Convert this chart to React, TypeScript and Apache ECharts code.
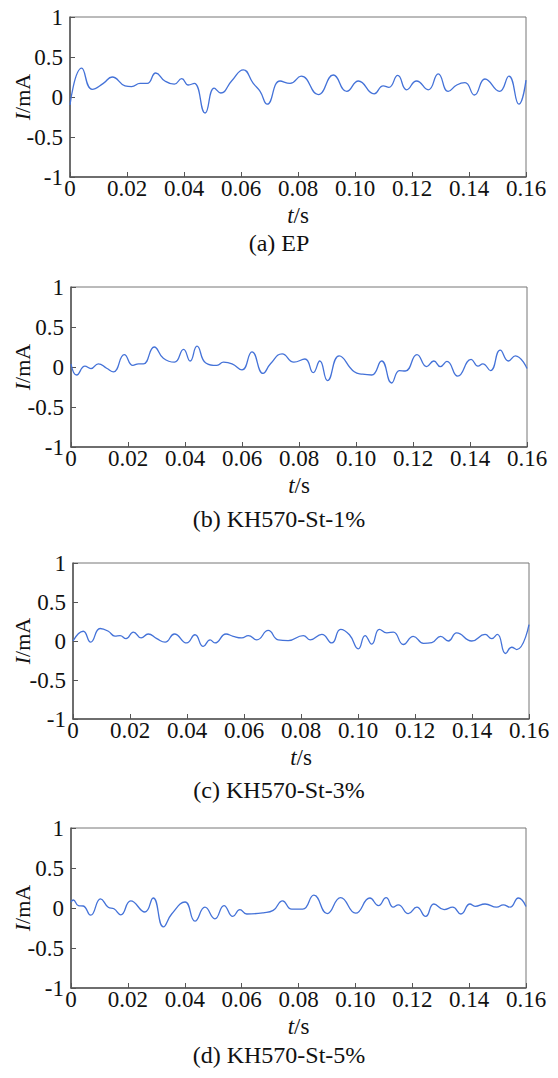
import React, { useEffect, useRef } from "react";
import * as echarts from "echarts";

// ---- data (t in s, I in mA) ----
const tA = [0, 0.0041, 0.0078, 0.0117, 0.0148, 0.0193, 0.0216, 0.0246, 0.0271, 0.0301, 0.0333, 0.0366, 0.0392, 0.0415, 0.0436, 0.0474, 0.0506, 0.0529, 0.0567, 0.0608, 0.0643, 0.0667, 0.0692, 0.0737, 0.0772, 0.0811, 0.0871, 0.0924, 0.0971, 0.1012, 0.1067, 0.1099, 0.1119, 0.115, 0.1181, 0.1216, 0.1257, 0.1292, 0.1327, 0.1357, 0.1386, 0.1419, 0.1456, 0.1507, 0.154, 0.1575, 0.16];
const iA = [-0.1, 0.36, 0.096, 0.17, 0.25, 0.14, 0.13, 0.17, 0.17, 0.3, 0.2, 0.16, 0.23, 0.15, 0.17, -0.2, 0.11, 0.05, 0.2, 0.34, 0.17, 0.07, -0.09, 0.2, 0.17, 0.26, 0.03, 0.275, 0.07, 0.2, 0.04, 0.14, 0.12, 0.27, 0.09, 0.2, 0.09, 0.29, 0.07, 0.15, 0.18, 0.025, 0.225, 0.07, 0.26, -0.09, 0.21];

const tB = [0, 0.002, 0.0049, 0.007, 0.0096, 0.0125, 0.0149, 0.0187, 0.0217, 0.0237, 0.0254, 0.0292, 0.0324, 0.0363, 0.0395, 0.0418, 0.0442, 0.0473, 0.0512, 0.0535, 0.0565, 0.06, 0.0635, 0.0674, 0.07, 0.0741, 0.0782, 0.0821, 0.085, 0.0873, 0.09, 0.0941, 0.0994, 0.1023, 0.1055, 0.109, 0.1125, 0.1152, 0.1173, 0.1214, 0.1248, 0.1273, 0.1296, 0.1319, 0.1357, 0.1404, 0.1428, 0.1445, 0.1472, 0.1506, 0.1535, 0.1559, 0.16];
const iB = [0.04, -0.1, 0.01, -0.02, 0.04, -0.015, -0.06, 0.155, 0.02, 0.04, 0.04, 0.25, 0.11, 0.06, 0.22, 0.075, 0.26, 0.05, 0.02, 0.06, 0.04, -0.035, 0.19, -0.08, 0.04, 0.165, 0.06, 0.1, -0.07, 0.075, -0.17, 0.14, -0.06, -0.09, -0.1, 0.075, -0.2, -0.045, -0.05, 0.155, 0.005, 0.075, 0.005, 0.07, -0.115, 0.095, 0.01, 0.04, -0.045, 0.21, 0.075, 0.14, -0.02];

const tC = [0, 0.0036, 0.0062, 0.0095, 0.0124, 0.0147, 0.0165, 0.0186, 0.0212, 0.0239, 0.0264, 0.0294, 0.0323, 0.0356, 0.0399, 0.0428, 0.0457, 0.0481, 0.0498, 0.0537, 0.0562, 0.0592, 0.0615, 0.0645, 0.0685, 0.072, 0.0755, 0.0808, 0.0832, 0.0873, 0.0908, 0.0939, 0.097, 0.1001, 0.1025, 0.1048, 0.1075, 0.1101, 0.1124, 0.1159, 0.1194, 0.123, 0.1259, 0.129, 0.1317, 0.1346, 0.1399, 0.1446, 0.1469, 0.1489, 0.1518, 0.1539, 0.1557, 0.16];
const iC = [0, 0.125, -0.015, 0.16, 0.125, 0.063, 0.07, 0.03, 0.115, 0.04, 0.09, 0.03, -0.015, 0.09, -0.025, 0.08, -0.07, 0.015, -0.025, 0.09, 0.06, 0.04, 0.07, 0.015, 0.135, 0.015, 0.005, 0.07, 0.015, 0.085, -0.025, 0.15, 0.08, -0.1, 0.07, -0.04, 0.15, 0.105, 0.115, -0.045, 0.06, -0.03, -0.02, 0.06, 0, 0.105, 0, 0.085, 0.03, 0.085, -0.16, -0.08, -0.11, 0.21];

const tD = [0, 0.0008, 0.0026, 0.0043, 0.0069, 0.0104, 0.0131, 0.0151, 0.0175, 0.021, 0.026, 0.0289, 0.0325, 0.0354, 0.0401, 0.0436, 0.0471, 0.0506, 0.0538, 0.0569, 0.0594, 0.0618, 0.0676, 0.0711, 0.0744, 0.0776, 0.0815, 0.0854, 0.0901, 0.0948, 0.1001, 0.1051, 0.1081, 0.1108, 0.1133, 0.1151, 0.1186, 0.1216, 0.1247, 0.1276, 0.1312, 0.1342, 0.1371, 0.1403, 0.1421, 0.1456, 0.1497, 0.152, 0.1544, 0.1573, 0.16];
const iD = [0.075, 0.1, 0.03, 0.025, -0.09, 0.115, 0.01, -0.01, -0.085, 0.09, -0.05, 0.125, -0.235, -0.075, 0.075, -0.165, 0.01, -0.135, 0.03, -0.105, -0.02, -0.075, -0.06, -0.03, 0.09, -0.015, -0.015, 0.16, -0.07, 0.13, -0.065, 0.125, 0.03, 0.13, 0.01, 0.04, -0.07, 0.01, -0.105, 0.05, -0.02, 0.01, -0.075, 0.05, 0.02, 0.05, 0.01, 0.04, 0.01, 0.125, 0.02];

const panelTitles = ["(a) EP", "(b) KH570-St-1%", "(c) KH570-St-3%", "(d) KH570-St-5%"];
const xName = "{i|t}/s";
const yName = "{i|I}/mA";

const FONT = "Liberation Serif";
const FS = 23;

export default function App() {
  const ref = useRef<HTMLDivElement>(null);
  useEffect(() => {
    if (!ref.current) return;
    const chart = echarts.init(ref.current, undefined, { renderer: "svg" });
    const series = [
      [tA, iA],
      [tB, iB],
      [tC, iC],
      [tD, iD],
    ];
    const grids = [
      { left: 70, top: 17, width: 456, height: 160 },
      { left: 71, top: 287, width: 456, height: 160 },
      { left: 73, top: 563, width: 456, height: 156 },
      { left: 71, top: 828, width: 455, height: 160 },
    ];
    const titleY = [243, 519, 790, 1055];
    const rich = { i: { fontStyle: "italic", fontFamily: FONT, fontSize: FS, color: "#111" } };
    const richY = { i: { fontStyle: "italic", fontFamily: FONT, fontSize: 22, color: "#111" } };
    const option: any = {
      animation: false,
      backgroundColor: "#fff",
      textStyle: { fontFamily: FONT },
      grid: grids.map((g) => ({
        ...g,
        show: true,
        borderColor: "#777",
        borderWidth: 1,
        containLabel: false,
        outerBoundsMode: "none",
      })),
      xAxis: grids.map((_, k) => ({
        gridIndex: k,
        type: "value",
        min: 0,
        max: 0.16,
        interval: 0.02,
        name: xName,
        nameLocation: "middle",
        nameGap: 27,
        nameMoveOverlap: false,
        nameTextStyle: { fontFamily: FONT, fontSize: FS, color: "#111", rich },
        axisLine: { show: true, onZero: false, lineStyle: { color: "#555", width: 1.5 } },
        axisTick: { show: true, inside: true, length: 5, lineStyle: { color: "#555" } },
        splitLine: { show: false },
        axisLabel: {
          fontFamily: FONT,
          fontSize: FS,
          color: "#111",
          margin: 0,
          formatter: (v: number) => (v === 0 ? "0" : v.toFixed(2)),
        },
      })),
      yAxis: grids.map((g, k) => ({
        gridIndex: k,
        type: "value",
        min: -1,
        max: 1,
        interval: 0.5,
        name: yName,
        nameLocation: "middle",
        nameGap: 37 + (g.left - 70),
        nameMoveOverlap: false,
        nameTextStyle: { fontFamily: FONT, fontSize: 22, color: "#111", rich: richY },
        axisLine: { show: true, onZero: false, lineStyle: { color: "#555", width: 1.5 } },
        axisTick: { show: true, inside: true, length: 5, lineStyle: { color: "#555" } },
        splitLine: { show: false },
        axisLabel: { fontFamily: FONT, fontSize: FS, color: "#111", margin: 7 },
      })),
      series: series.map(([t, v], k) => ({
        type: "line",
        xAxisIndex: k,
        yAxisIndex: k,
        data: t.map((x, j) => [x, v[j]]),
        smooth: 0.5,
        showSymbol: false,
        symbol: "none",
        lineStyle: { color: "#4472d8", width: 1.3 },
      })),
      graphic: panelTitles.map((txt, k) => ({
        type: "text",
        x: 279,
        y: titleY[k],
        style: {
          text: txt,
          fontFamily: FONT,
          fontSize: 24,
          fill: "#111",
          textAlign: "center",
          textVerticalAlign: "middle",
        },
      })),
    };
    chart.setOption(option);
    return () => chart.dispose();
  }, []);
  return (
    <div
      ref={ref}
      style={{ position: "absolute", left: 0, top: 0, width: 558, height: 1078, background: "#fff" }}
    />
  );
}
